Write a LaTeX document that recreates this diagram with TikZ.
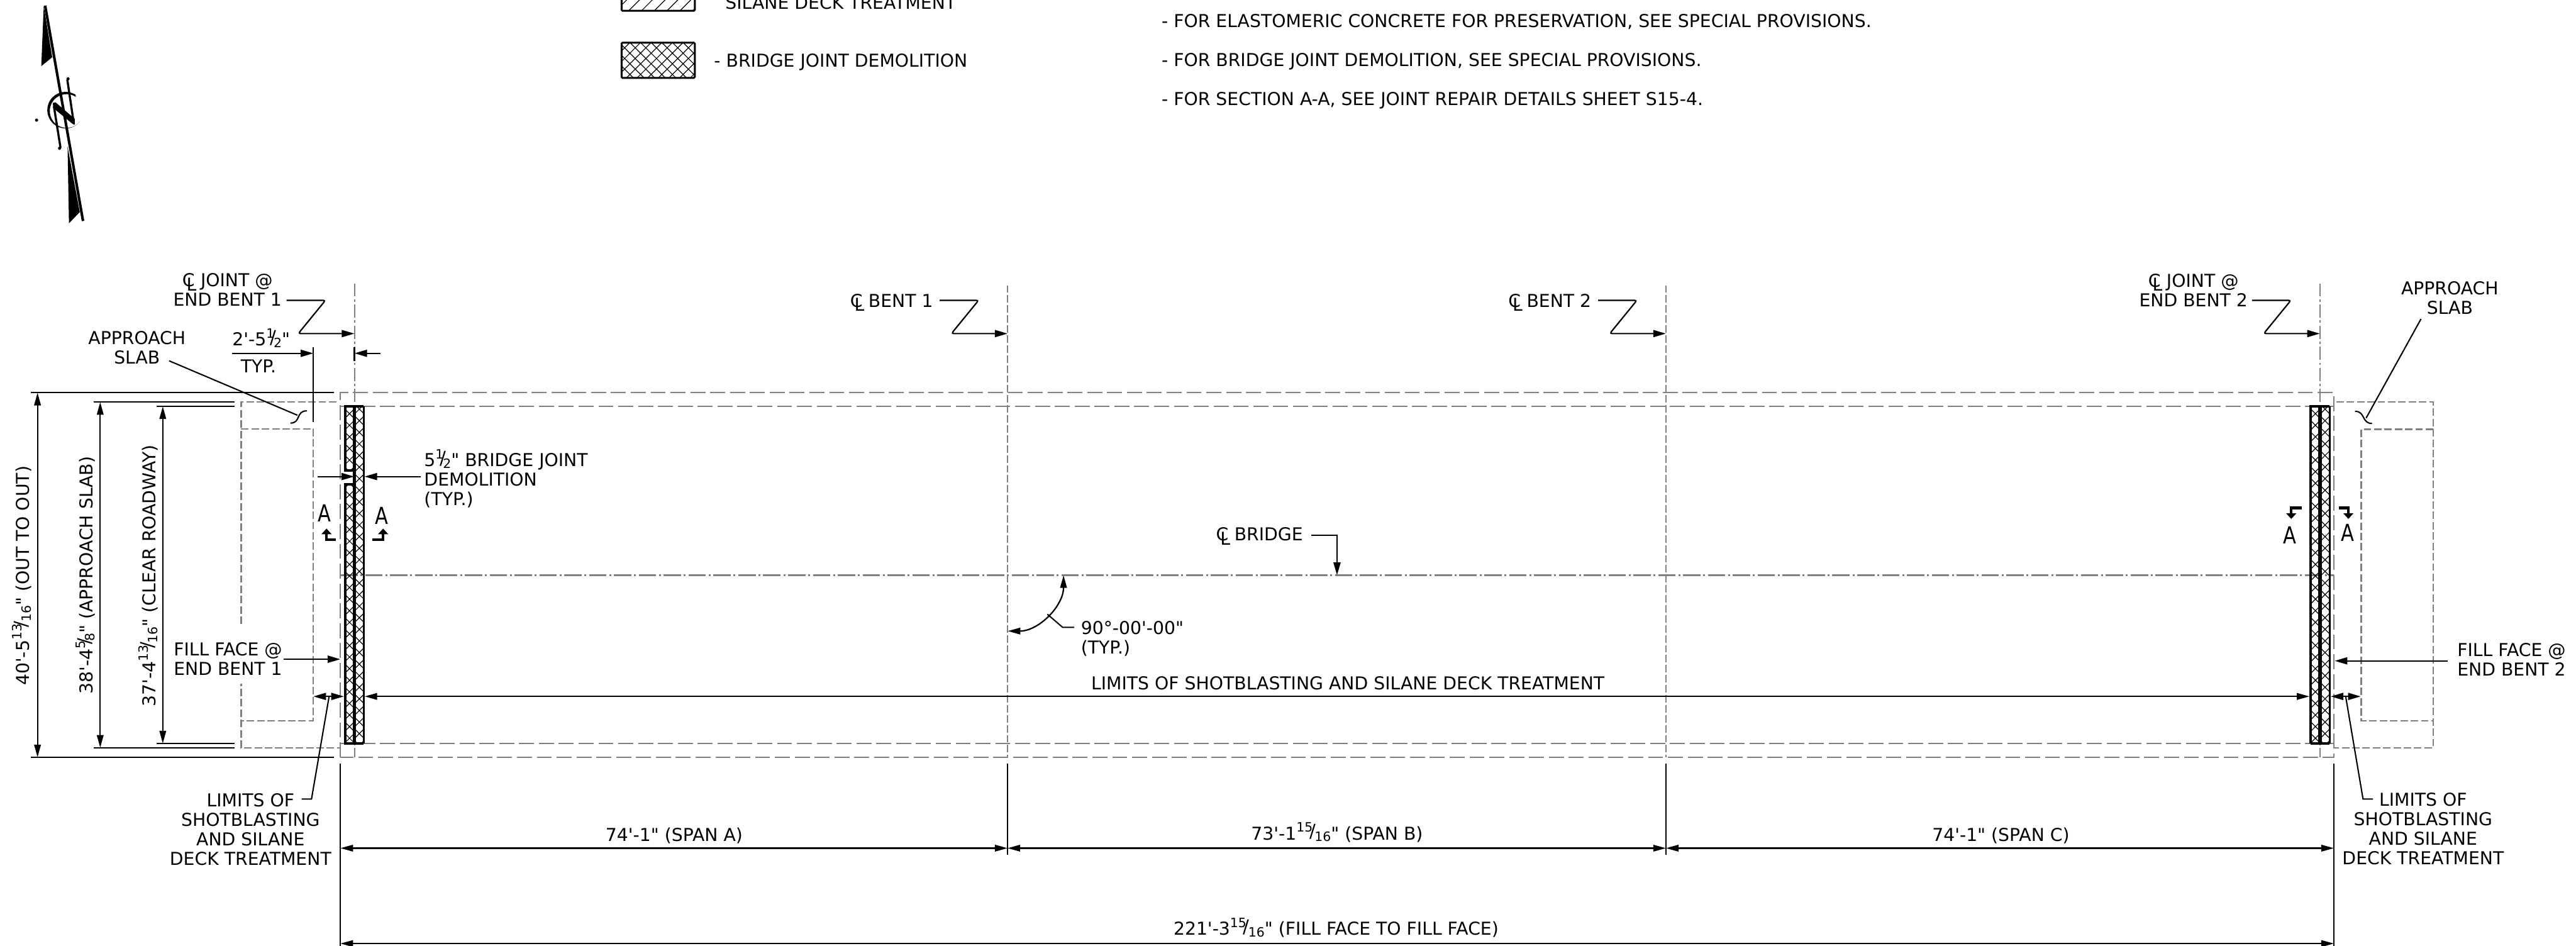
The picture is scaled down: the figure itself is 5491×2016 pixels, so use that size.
\documentclass[tikz,border=0pt]{standalone}
\usepackage{fontspec}
\usepackage{graphicx}
\usetikzlibrary{arrows.meta}
\newfontfamily\dv{DejaVu Sans}
\definecolor{hid}{HTML}{808080}
\newcommand{\frslash}{\makebox[0pt]{\raisebox{4.5pt}[0pt][0pt]{\fontsize{39}{39}\selectfont /}}}
\newcommand{\fr}[2]{\raisebox{16.5pt}[0pt][0pt]{\fontsize{27.4}{27.4}\selectfont #1}\kern-0.5pt\frslash\kern4.5pt\raisebox{-3.5pt}[0pt][0pt]{\fontsize{27.4}{27.4}\selectfont #2}}
\newcommand{\frs}[2]{\raisebox{16pt}[0pt][0pt]{\fontsize{27.4}{27.4}\selectfont #1}\kern-2pt\frslash\kern0.5pt\raisebox{-3.5pt}[0pt][0pt]{\fontsize{27.4}{27.4}\selectfont #2}}
\newcommand{\CLsym}{\makebox[27pt][l]{C\kern-17.5pt\raisebox{-8.5pt}[0pt][0pt]{L}}}
\newcommand{\bigA}{\scalebox{0.82}[1]{\fontsize{50}{50}\selectfont A}}
\tikzset{
  txt/.style={font=\dv\fontsize{37.9}{41.5}\selectfont,inner sep=0pt,anchor=base},
  txtl/.style={txt,anchor=base west},
  ctr/.style={txt,align=center},
  dimtxt/.style={txt,rotate=90},
  dimline/.style={black,line width=3pt},
  dimarrow/.style={black,line width=3pt,{Triangle[length=27pt,width=14pt]}-{Triangle[length=27pt,width=14pt]}},
  leadarrow/.style={black,line width=3pt,-{Triangle[length=27pt,width=15pt]}},
  zlead/.style={leadarrow,rounded corners=5pt},
  leader/.style={black,line width=2.8pt},
  deck/.style={hid,line width=3pt,dash pattern=on 32pt off 10.3pt},
  slab/.style={hid,line width=3pt,dash pattern=on 16pt off 6pt},
  bentcl/.style={hid,line width=2.8pt,dash pattern=on 16pt off 5.3pt},
  jointcl/.style={hid,line width=2.8pt,dash pattern=on 28pt off 6pt on 5pt off 6pt},
  bridgecl/.style={hid,line width=3.2pt,dash pattern=on 37pt off 6pt on 4pt off 6pt},
  hatchline/.style={black,line width=1.6pt},
  wall/.style={black,line width=5.5pt},
  secarrow/.style={black,line width=6pt,-{Triangle[length=12pt,width=21pt]}},
}
\newcommand{\zleader}[2]{\draw[zlead] (#1-144.6,#2) -- (#1-61.7,#2) -- (#1-119.7,#2+71) -- (#1,#2+71);}
\newcommand{\xhatch}[3]{% centre x, first y, count
  \foreach \k in {0,...,#3}{\pgfmathsetmacro{\cy}{#2+\k*24.7}
    \draw[hatchline] (#1-30,\cy-30) -- (#1+30,\cy+30) (#1-30,\cy+30) -- (#1+30,\cy-30);}}
\begin{document}
\begin{tikzpicture}[x=1pt,y=-1pt]
\useasboundingbox (0,0) rectangle (5491,2016);
\fill[white] (0,0) rectangle (5491,2016);

% north arrow
\fill (93.2,13) -- (111.3,122) -- (88,141) -- cycle;
\fill (144,312) -- (170,452) -- (147,476) -- cycle;
\draw[line width=5.5pt] (96.2,12) -- (177,471);
\draw[line width=4.5pt] (143.5,170) -- (157.5,264);
\draw[line width=4.5pt] (115,227) -- (129,315);
\fill (145,168) circle (3.4) (127,316) circle (3.4) (78,256) circle (3.4);
\fill (112.7,219.3) -- (118.7,218.3) -- (159.3,253.3) -- (159.3,265.7) -- (155,264.3) -- (113.3,230) -- cycle;
\fill (161,202) arc[start angle=-57,end angle=-321,radius=39]
  arc[start angle=-321,end angle=-57,radius=36] -- cycle;

% legend
\draw[black,line width=4pt,rounded corners=2pt] (1325,-52) rectangle (1481,23);
\begin{scope}
\clip (1325,-52) rectangle (1481,23);
\foreach \k in {-3,...,8}{\draw[hatchline] (1363+\k*27.3-30,30) -- (1363+\k*27.3+80,-80);}
\end{scope}
\node[txtl] (legA) at (1546,20) {SILANE DECK TREATMENT};
\begin{scope}
\clip (1325,91) rectangle (1481,166);
\foreach \k in {-5,...,11}{
  \draw[hatchline] (1342.7+\k*22.67-100,213.3) -- (1342.7+\k*22.67+100,13.3)
                   (1342.7+\k*22.67-100,13.3) -- (1342.7+\k*22.67+100,213.3);}
\end{scope}
\draw[black,line width=4pt,rounded corners=2pt] (1325,91) rectangle (1481,166);
\node[txtl] (legB) at (1522,143) {- BRIDGE JOINT DEMOLITION};

% notes
\node[txtl] (noteA) at (2476,58) {- FOR ELASTOMERIC CONCRETE FOR PRESERVATION, SEE SPECIAL PROVISIONS.};
\node[txtl] (noteB) at (2476,141) {- FOR BRIDGE JOINT DEMOLITION, SEE SPECIAL PROVISIONS.};
\node[txtl] (noteC) at (2476,224) {- FOR SECTION A-A, SEE JOINT REPAIR DETAILS SHEET S15-4.};

% deck outline and centre lines
\draw[deck] (725.7,1614) -- (725.7,837) -- (4975,837) -- (4975,1614) -- cycle;
\draw[deck] (725.7,866) -- (4975,866);
\draw[deck] (725.7,1584.6) -- (4975,1584.6);
\draw[bridgecl] (725.7,1225.7) -- (4975,1225.7);
\draw[jointcl] (755.5,604) -- (755.5,1614);
\draw[jointcl] (4945,604) -- (4945,1614);
\draw[bentcl] (2147.7,608) -- (2147.7,1614);
\draw[bentcl] (3551,608) -- (3551,1614);

% approach slabs
\draw[slab] (717,857) -- (514,857) -- (514,1593.6) -- (725.7,1593.6);
\draw[slab] (514,914) -- (668,914) -- (668,1536) -- (514,1536);
\draw[slab] (4980,857) -- (5186.5,857) -- (5186.5,1593.7) -- (4975,1593.7);
\draw[slab] (5186.5,915) -- (5033,915) -- (5033,1536) -- (5186.5,1536);
\fill[white] (505,1337) rectangle (523,1457);

% joint, end bent 1
\begin{scope}
\clip (736,866) rectangle (755,1002.3) (736,1031.7) rectangle (755,1584);
\xhatch{745}{857}{30}
\end{scope}
\begin{scope}
\clip (755,866) rectangle (775,1584);
\xhatch{766}{872}{29}
\end{scope}
\draw[wall] (755.5,1002.3) -- (735.7,1002.3) -- (735.7,866) -- (775.5,866);
\draw[wall] (755.5,1031.7) -- (735.7,1031.7) -- (735.7,1584) -- (775.5,1584);
\draw[black,line width=7.7pt] (755.5,866) -- (755.5,1584);
\draw[black,line width=4.5pt] (775.5,866) -- (775.5,1584);

% joint, end bent 2
\begin{scope}
\clip (4926,866) rectangle (4945,1584);
\xhatch{4935.5}{857}{30}
\end{scope}
\begin{scope}
\clip (4945,866) rectangle (4966,1584);
\xhatch{4956}{872}{29}
\end{scope}
\draw[wall] (4925.5,1584) -- (4925.5,866) -- (4966,866);
\draw[wall] (4925.5,1584) -- (4966,1584);
\draw[black,line width=7.7pt] (4945,866) -- (4945,1584);
\draw[black,line width=4.5pt] (4966,866) -- (4966,1584);

% top labels and leaders
\node[ctr] (cljA) at (485,652.7) {\CLsym{} JOINT @\\END BENT 1};
\zleader{755.5}{640}
\node[txtl] (clbA) at (1812,655) {\CLsym{} BENT 1};
\zleader{2147.7}{640}
\node[txtl] (clbB) at (3215,655) {\CLsym{} BENT 2};
\zleader{3551}{640}
\node[ctr] (cljB) at (4675.5,653) {\CLsym{} JOINT @\\END BENT 2};
\zleader{4945}{640}

% approach slab leaders
\node[ctr] (slabA) at (292,776) {APPROACH\\SLAB};
\draw[leader] (360.5,769) -- (634,885);
\draw[leader] (654.4,875.7) .. controls (630,875) and (642,902) .. (619,901.7);
\node[ctr] (slabB) at (5222,670) {APPROACH\\SLAB};
\draw[leader] (5160.6,679.7) -- (5043.6,891);
\draw[leader] (5020,876.8) .. controls (5042,876) and (5034,903) .. (5056,902.4);

% 2'-5 1/2" dimension
\node[txtl] (dimtyp) at (495,737) {2'-5\frs{1}{2}"};
\node[txtl] (typ) at (513,794) {TYP.};
\draw[dimline] (668,740) -- (668,900);
\draw[dimline] (755.5,740) -- (755.5,770);
\draw[leadarrow] (494,753) -- (668,753);
\draw[leadarrow] (810.5,753) -- (755.5,753);

% transverse dimensions
\draw[dimline] (66,837) -- (712,837);
\draw[dimline] (66,1614) -- (712,1614);
\draw[dimline] (200,857) -- (499.5,857);
\draw[dimline] (200,1593.6) -- (499.5,1593.6);
\draw[dimline] (334,866) -- (499.5,866);
\draw[dimline] (334,1584.6) -- (499.5,1584.6);
\draw[dimarrow] (80,837) -- (80,1614);
\draw[dimarrow] (213.6,857) -- (213.6,1593.6);
\draw[dimarrow] (347,866) -- (347,1584.6);
\node[dimtxt] (tA) at (63,1227) {40'-5\fr{13}{16}" (OUT TO OUT)};
\node[dimtxt] (tB) at (198,1226) {38'-4\frs{5}{8}" (APPROACH SLAB)};
\node[dimtxt] (tC) at (332,1227) {37'-4\fr{13}{16}" (CLEAR ROADWAY)};

% joint demolition width
\node[txtl,align=left] (demo) at (904,1077) {5\frs{1}{2}" BRIDGE JOINT\\DEMOLITION\\(TYP.)};
\draw[leadarrow] (677,1015.7) -- (755,1015.7);
\draw[leadarrow] (897,1015.7) -- (777,1015.7);

% section marks
\node[txt] (aL) at (692,1111.5) {\bigA};
\draw[secarrow] (716,1150) -- (696,1150) -- (696,1126.5);
\node[txt] (aR) at (814,1118) {\bigA};
\draw[secarrow] (794,1150) -- (816.7,1150) -- (816.7,1126.5);
\node[txt] (aL2) at (4881,1159) {\bigA};
\draw[secarrow] (4906.4,1082.6) -- (4884,1082.6) -- (4884,1106);
\node[txt] (aR2) at (5004,1153) {\bigA};
\draw[secarrow] (4985,1082.6) -- (5005.7,1082.6) -- (5005.7,1106);

% centre line of bridge, skew
\node[txtl] (clbr) at (2592,1152.7) {\CLsym{} BRIDGE};
\draw[leadarrow] (2795,1141) -- (2850,1141) -- (2850,1225.7);
\draw[leadarrow,{Triangle[length=27pt,width=14pt]}-{Triangle[length=27pt,width=14pt]}] (2267,1226) arc[start angle=0,end angle=90,radius=119];
\draw[leader] (2232.5,1309) -- (2265,1337) -- (2290,1337);
\node[txtl,align=left] (skew) at (2304,1393) {90°-00'-00"\\(TYP.)};

% fill face labels
\node[ctr] (ffA) at (486,1438.7) {FILL FACE @\\END BENT 1};
\draw[leadarrow] (604,1405) -- (725.6,1405);
\node[ctr] (ffB) at (5353.5,1441) {FILL FACE @\\END BENT 2};
\draw[leadarrow] (5218,1408.5) -- (4976.5,1408.5);

% limits of shotblasting
\node[txt] (lim) at (2873,1470) {LIMITS OF SHOTBLASTING AND SILANE DECK TREATMENT};
\draw[dimarrow] (777,1484.3) -- (4923,1484.3);
\draw[leadarrow] (701,1484.3) -- (668,1484.3);
\draw[leadarrow] (701,1484.3) -- (733,1484.3);
\draw[leader] (701.5,1484.3) -- (664,1703) -- (643,1703);
\node[ctr] (limA) at (534,1844) {LIMITS OF\\SHOTBLASTING\\AND SILANE\\DECK TREATMENT};
\draw[leadarrow] (4999,1484.3) -- (4968,1484.3);
\draw[leadarrow] (4999,1484.3) -- (5032,1484.3);
\draw[leader] (5000,1484.3) -- (5037,1703) -- (5058,1703);
\node[ctr] (limB) at (5165,1843) {LIMITS OF\\SHOTBLASTING\\AND SILANE\\DECK TREATMENT};

% span dimensions
\draw[dimline] (725.7,1627) -- (725.7,2016);
\draw[dimline] (4975,1628) -- (4975,2016);
\draw[dimline] (2147.7,1628) -- (2147.7,1821.7);
\draw[dimline] (3551,1628) -- (3551,1821.7);
\draw[dimarrow] (725.7,1807.7) -- (2147.7,1807.7);
\draw[dimarrow] (2147.7,1807.7) -- (3551,1807.7);
\draw[dimarrow] (3551,1807.7) -- (4975,1807.7);
\draw[dimarrow] (725.7,2011) -- (4975,2011);
\node[txt] (spA) at (1437,1793) {74'-1" (SPAN A)};
\node[txt] (spB) at (2850,1790) {73'-1\fr{15}{16}" (SPAN B)};
\node[txt] (spC) at (4265,1793) {74'-1" (SPAN C)};
\node[txt] (spT) at (2848,1992.7) {221'-3\fr{15}{16}" (FILL FACE TO FILL FACE)};
\end{tikzpicture}
\end{document}
